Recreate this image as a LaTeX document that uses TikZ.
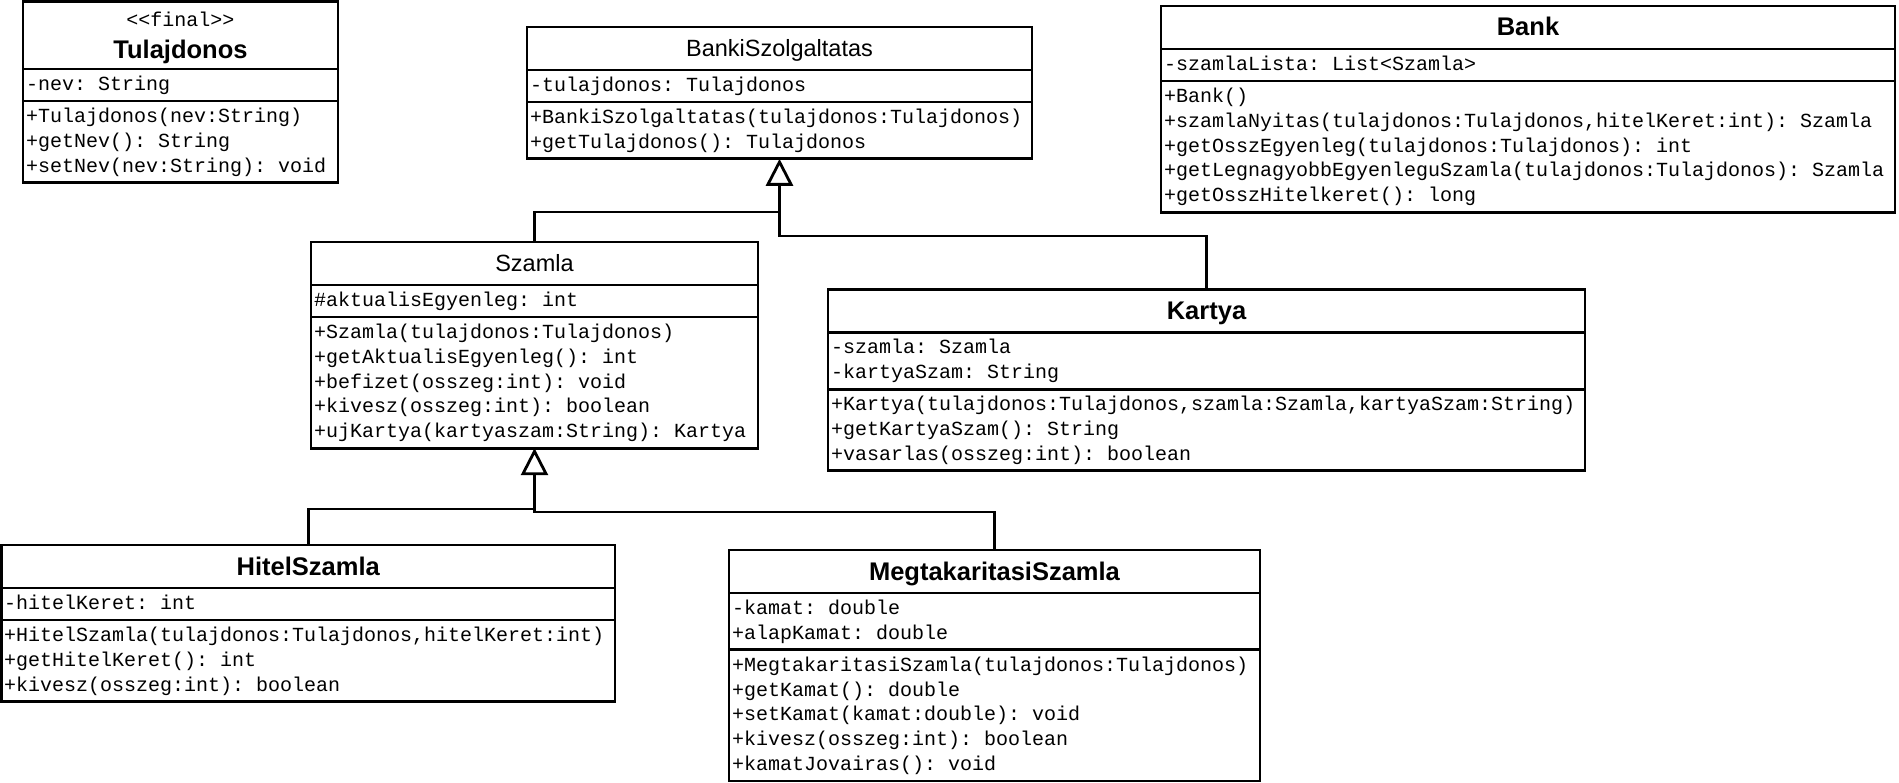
\documentclass[tikz,border=0pt]{standalone}
\usepackage{fontspec}
\setmainfont{Liberation Sans}
\setsansfont{Liberation Sans}
\setmonofont{Liberation Mono}
\usetikzlibrary{arrows.meta,fit}
\tikzset{
  box/.style={draw, line width=2.8pt, inner sep=0pt, outer sep=0pt},
  divl/.style={line width=2.8pt},
  mem/.style={anchor=base west, inner sep=0pt, font=\ttfamily\fontsize{20}{24}\selectfont},
  title/.style={anchor=base, inner sep=0pt, font=\sffamily\fontsize{23.5}{28}\selectfont},
  btitle/.style={anchor=base, inner sep=0pt, font=\sffamily\bfseries\fontsize{25.5}{30}\selectfont},
  conn/.style={line width=2.8pt},
  gen/.style={-{Triangle[open,length=27pt,width=27pt]}}
}
\newcommand\umlclass[5]{\node[box, fit={(#2,#3) (#4,#5)}] (#1) {};}
\newcommand\divline[3]{\draw[divl] (#1,#3) -- (#2,#3);}
\newcommand\umlrows[4]{\foreach \t [count=\i from 0] in {#4}{\node[mem] (#1-\i) at (#2,{#3+\i*24.8+6.5}) {\t};}}
\begin{document}
\begin{tikzpicture}[x=1pt,y=-1pt]
\fill[white] (0,0) rectangle (1899,783);
\useasboundingbox (0,0) rectangle (1899,783);

% Tulajdonos
\umlclass{tul}{23}{1.6}{338}{182.6}
\divline{23}{338}{69}
\divline{23}{338}{101}
\node[mem, anchor=base] (tul-st) at (180.5,27) {<<final>>};
\node[btitle] (tul-t) at (180.5,59) {Tulajdonos};
\umlrows{tul-a}{26}{84}{{-nev: String}}
\umlrows{tul-m}{26}{116}{{+Tulajdonos(nev:String)},{+getNev(): String},{+setNev(nev:String): void}}

% BankiSzolgaltatas
\umlclass{banki}{527}{27}{1032}{158.8}
\divline{527}{1032}{70}
\divline{527}{1032}{102}
\node[title] (banki-t) at (779.5,57) {BankiSzolgaltatas};
\umlrows{banki-a}{530}{85}{{-tulajdonos: Tulajdonos}}
\umlrows{banki-m}{530}{117}{{+BankiSzolgaltatas(tulajdonos:Tulajdonos)},{+getTulajdonos(): Tulajdonos}}

% Bank
\umlclass{bank}{1161}{6}{1895}{212.2}
\divline{1161}{1895}{49}
\divline{1161}{1895}{81}
\node[btitle] (bank-t) at (1528,36) {Bank};
\umlrows{bank-a}{1164}{64}{{-szamlaLista: List<Szamla>}}
\umlrows{bank-m}{1164}{96}{{+Bank()},{+szamlaNyitas(tulajdonos:Tulajdonos,hitelKeret:int): Szamla},{+getOsszEgyenleg(tulajdonos:Tulajdonos): int},{+getLegnagyobbEgyenleguSzamla(tulajdonos:Tulajdonos): Szamla},{+getOsszHitelkeret(): long}}

% Szamla
\umlclass{szamla}{311}{242}{758}{448.2}
\divline{311}{758}{285}
\divline{311}{758}{317}
\node[title] (szamla-t) at (534.5,272) {Szamla};
\umlrows{szamla-a}{314}{300}{{\#aktualisEgyenleg: int}}
\umlrows{szamla-m}{314}{332}{{+Szamla(tulajdonos:Tulajdonos)},{+getAktualisEgyenleg(): int},{+befizet(osszeg:int): void},{+kivesz(osszeg:int): boolean},{+ujKartya(kartyaszam:String): Kartya}}

% Kartya
\umlclass{kartya}{828}{289.5}{1585}{470.9}
\divline{828}{1585}{332.5}
\divline{828}{1585}{389.3}
\node[btitle] (kartya-t) at (1206.5,319.5) {Kartya};
\umlrows{kartya-a}{831}{347.5}{{-szamla: Szamla},{-kartyaSzam: String}}
\umlrows{kartya-m}{831}{404.3}{{+Kartya(tulajdonos:Tulajdonos,szamla:Szamla,kartyaSzam:String)},{+getKartyaSzam(): String},{+vasarlas(osszeg:int): boolean}}

% HitelSzamla
\umlclass{hitel}{1.6}{545}{615}{701.6}
\divline{1.6}{615}{588}
\divline{1.6}{615}{620}
\node[btitle] (hitel-t) at (308.3,575) {HitelSzamla};
\umlrows{hitel-a}{4}{603}{{-hitelKeret: int}}
\umlrows{hitel-m}{4}{635}{{+HitelSzamla(tulajdonos:Tulajdonos,hitelKeret:int)},{+getHitelKeret(): int},{+kivesz(osszeg:int): boolean}}

% MegtakaritasiSzamla
\umlclass{megtak}{729}{550}{1260}{781}
\divline{729}{1260}{593}
\divline{729}{1260}{649.8}
\node[btitle] (megtak-t) at (994.5,580) {MegtakaritasiSzamla};
\umlrows{megtak-a}{732}{608}{{-kamat: double},{+alapKamat: double}}
\umlrows{megtak-m}{732}{664.8}{{+MegtakaritasiSzamla(tulajdonos:Tulajdonos)},{+getKamat(): double},{+setKamat(kamat:double): void},{+kivesz(osszeg:int): boolean},{+kamatJovairas(): void}}

% connectors
\coordinate (j1) at (779.5,212);
\coordinate (j2) at (779.5,236);
\coordinate (j3) at (534.5,509);
\coordinate (j4) at (534.5,512);
\draw[conn] (szamla.north) |- (j1);
\draw[conn,gen] (kartya.north) |- (j2) -- (banki.south);
\draw[conn] (hitel.north) |- (j3);
\draw[conn,gen] (megtak.north) |- (j4) -- (szamla.south);
\end{tikzpicture}
\end{document}
